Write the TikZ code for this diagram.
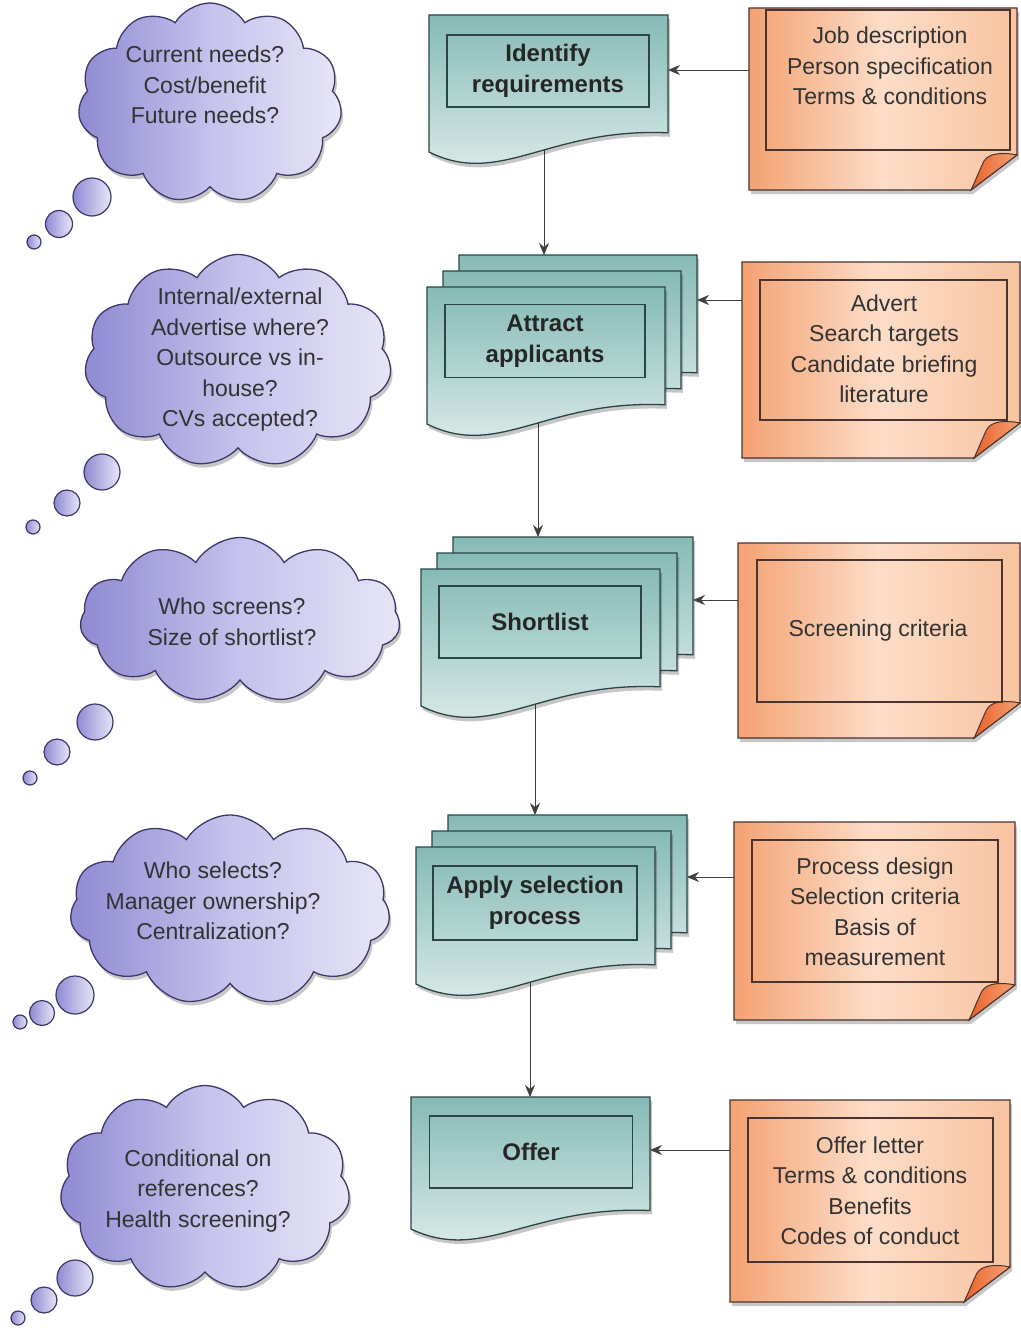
\documentclass[tikz,border=0pt]{standalone}
\usepackage{fontspec}
\setmainfont{Liberation Sans}
\usetikzlibrary{shapes.symbols,arrows.meta,shadows}
\pgfdeclarelayer{bg}
\pgfsetlayers{bg,main}
\definecolor{docE}{HTML}{2C4544}
\definecolor{docA}{HTML}{86BAB6}
\definecolor{docM}{HTML}{B3D5D2}
\definecolor{docB}{HTML}{E3EFED}
\definecolor{noteE}{HTML}{4A3430}
\definecolor{noteA}{HTML}{F4A273}
\definecolor{noteB}{HTML}{FCDDC8}
\definecolor{noteC}{HTML}{F8C3A0}
\definecolor{flapA}{HTML}{E8622A}
\definecolor{flapB}{HTML}{F7A275}
\definecolor{cloudE}{HTML}{3E386A}
\definecolor{cloudA}{HTML}{8F8AD2}
\definecolor{cloudM}{HTML}{C5C2EC}
\definecolor{cloudB}{HTML}{E7E6F7}
\newcommand{\docsh}[4]{%
  \pgfmathsetmacro{\dsW}{#3-#1}%
  \path[docst] (#1,#2) -- (#3,#2) -- (#3,{#2+0.86*#4})
    .. controls ({#1+0.5*\dsW},{#2+0.82*#4}) and ({#1+0.3*\dsW},{#2+1.26*#4}) .. (#1,{#2+#4}) -- cycle;}
\newcommand{\notesh}[4]{%
  \path[notest] (#1,#2) -- (#3,#2) -- (#3,{#4-35}) -- ({#3-46},#4) -- (#1,#4) -- cycle;
  \path[flapst] (#3,{#4-35}) .. controls ({#3-14},{#4-38}) and ({#3-28},{#4-37}) .. ({#3-33},{#4-29})
    .. controls ({#3-38},{#4-19}) and ({#3-42},{#4-8}) .. ({#3-46},#4) -- cycle;}
\begin{document}
\begin{tikzpicture}[x=1pt,y=-1pt,
  shad/.style={drop shadow={shadow xshift=2pt,shadow yshift=-4pt,opacity=0.22,fill=black}},
  docst/.style={draw=docE,line width=1.3pt,top color=docA,bottom color=docB,middle color=docM,shad},
  labst/.style={rectangle,draw=docE,line width=1.3pt,inner sep=0pt,align=center,text=black!85,
    font=\bfseries\fontsize{24}{31}\selectfont},
  notest/.style={draw=noteE,line width=1.2pt,left color=noteA,right color=noteC,middle color=noteB,shad},
  flapst/.style={draw=noteE,line width=1pt,left color=flapA,right color=flapB},
  framest/.style={rectangle,draw=noteE,line width=1.2pt,inner sep=0pt},
  anch/.style={rectangle,draw=none,inner sep=0pt},
  txt/.style={align=center,text=black!80,font=\fontsize{23}{30.5}\selectfont,inner sep=0pt},
  cloudst/.style={cloud,cloud puffs=11,cloud puff arc=118,cloud ignores aspect,draw=cloudE,line width=1.3pt,
    left color=cloudA,right color=cloudB,middle color=cloudM,inner sep=0pt,shad},
  bub/.style={circle,draw=cloudE,line width=1.2pt,left color=cloudA,right color=cloudB,inner sep=0pt},
  arr/.style={draw=black!75,line width=0.9pt,-{Stealth[length=12pt,width=10pt]}}]
\begin{pgfonlayer}{bg}
\fill[white] (0,0) rectangle (1020,1335);
\end{pgfonlayer}
\useasboundingbox (0,0) rectangle (1020,1335);

% ---------- clouds ----------
\node[cloudst,minimum width=264pt,minimum height=200pt] (c1) at (210,103) {};
\node[txt] (q1) at (205,85) {Current needs?\\Cost/benefit\\Future needs?};
\node[bub,minimum size=38pt] (b11) at (92,197) {};
\node[bub,minimum size=27pt] (b12) at (59,224) {};
\node[bub,minimum size=14pt] (b13) at (34,242) {};

\node[cloudst,minimum width=307pt,minimum height=213pt] (c2) at (238,361) {};
\node[txt] (q2) at (240,360) {Internal/external\\Advertise where?\\Outsource vs in-\\house?\\CVs accepted?};
\node[bub,minimum size=36pt] (b21) at (102,472) {};
\node[bub,minimum size=26pt] (b22) at (67,503) {};
\node[bub,minimum size=14pt] (b23) at (33,527) {};

\node[cloudst,minimum width=320pt,minimum height=165pt] (c3) at (240,620) {};
\node[txt] (q3) at (232,622) {Who screens?\\Size of shortlist?};
\node[bub,minimum size=36pt] (b31) at (95,722) {};
\node[bub,minimum size=26pt] (b32) at (57,752) {};
\node[bub,minimum size=14pt] (b33) at (30,778) {};

\node[cloudst,minimum width=320pt,minimum height=190pt] (c4) at (230,910) {};
\node[txt] (q4) at (213,901) {Who selects?\\Manager ownership?\\Centralization?};
\node[bub,minimum size=38pt] (b41) at (75,995) {};
\node[bub,minimum size=25pt] (b42) at (42,1013) {};
\node[bub,minimum size=14pt] (b43) at (20,1022) {};

\node[cloudst,minimum width=290pt,minimum height=205pt] (c5) at (205,1188) {};
\node[txt] (q5) at (198,1191) {Conditional on\\references?\\Health screening?};
\node[bub,minimum size=36pt] (b51) at (75,1278) {};
\node[bub,minimum size=26pt] (b52) at (44,1300) {};
\node[bub,minimum size=14pt] (b53) at (18,1318) {};

% ---------- documents ----------
\docsh{429}{15}{668}{137}
\node[labst,minimum width=202pt,minimum height=72pt] (lab1) at (548,71) {Identify\\requirements};

\docsh{459}{255}{697}{137}
\docsh{443}{271}{681}{137}
\docsh{427}{287}{665}{137}
\node[labst,minimum width=200pt,minimum height=73pt] (lab2) at (545,341) {Attract\\applicants};

\docsh{453}{537}{693}{137}
\docsh{437}{553}{677}{137}
\docsh{421}{569}{660}{137}
\node[labst,minimum width=202pt,minimum height=72pt] (lab3) at (540,622) {Shortlist};

\docsh{448}{815}{687}{137}
\docsh{432}{831}{671}{137}
\docsh{416}{847}{655}{137}
\node[labst,minimum width=204pt,minimum height=74pt] (lab4) at (535,903) {Apply selection\\process};

\docsh{411}{1097}{650}{132}
\node[labst,minimum width=203pt,minimum height=72pt] (lab5) at (531,1152) {Offer};

% ---------- notes ----------
\notesh{749}{8}{1017}{190}
\node[anch,minimum width=268pt,minimum height=182pt] (note1) at (883,99) {};
\node[framest,minimum width=244pt,minimum height=140pt] (fr1) at (888,80) {};
\node[txt] (t1) at (890,66) {Job description\\Person specification\\Terms \& conditions};

\notesh{742}{262}{1020}{458}
\node[anch,minimum width=278pt,minimum height=196pt] (note2) at (881,360) {};
\node[framest,minimum width=247pt,minimum height=140pt] (fr2) at (883.5,350) {};
\node[txt] (t2) at (884,349) {Advert\\Search targets\\Candidate briefing\\literature};

\notesh{738}{543}{1020}{738}
\node[anch,minimum width=282pt,minimum height=195pt] (note3) at (879,640.5) {};
\node[framest,minimum width=245pt,minimum height=142pt] (fr3) at (879.5,631) {};
\node[txt] (t3) at (878,631) {Screening criteria};

\notesh{734}{822}{1015}{1020}
\node[anch,minimum width=281pt,minimum height=198pt] (note4) at (874.5,921) {};
\node[framest,minimum width=246pt,minimum height=142pt] (fr4) at (875,911) {};
\node[txt] (t4) at (875,912) {Process design\\Selection criteria\\Basis of\\measurement};

\notesh{730}{1100}{1010}{1302}
\node[anch,minimum width=280pt,minimum height=202pt] (note5) at (870,1201) {};
\node[framest,minimum width=245pt,minimum height=144pt] (fr5) at (870.5,1190) {};
\node[txt] (t5) at (870,1191) {Offer letter\\Terms \& conditions\\Benefits\\Codes of conduct};

% ---------- connector end points ----------
\coordinate (top2) at (544,255);
\coordinate (top3) at (538,537);
\coordinate (top4) at (535,815);
\coordinate (top5) at (530,1097);
\coordinate (in1) at (668,70);
\coordinate (in2) at (697,300);
\coordinate (in3) at (693,600);
\coordinate (in4) at (687,877);
\coordinate (in5) at (650,1150);

\begin{pgfonlayer}{bg}
\draw[arr] (top2 |- lab1.south) -- (top2);
\draw[arr] (top3 |- lab2.south) -- (top3);
\draw[arr] (top4 |- lab3.south) -- (top4);
\draw[arr] (top5 |- lab4.south) -- (top5);
\end{pgfonlayer}
\draw[arr] (note1.west |- in1) -- (in1);
\draw[arr] (note2.west |- in2) -- (in2);
\draw[arr] (note3.west |- in3) -- (in3);
\draw[arr] (note4.west |- in4) -- (in4);
\draw[arr] (note5.west |- in5) -- (in5);
\end{tikzpicture}
\end{document}
